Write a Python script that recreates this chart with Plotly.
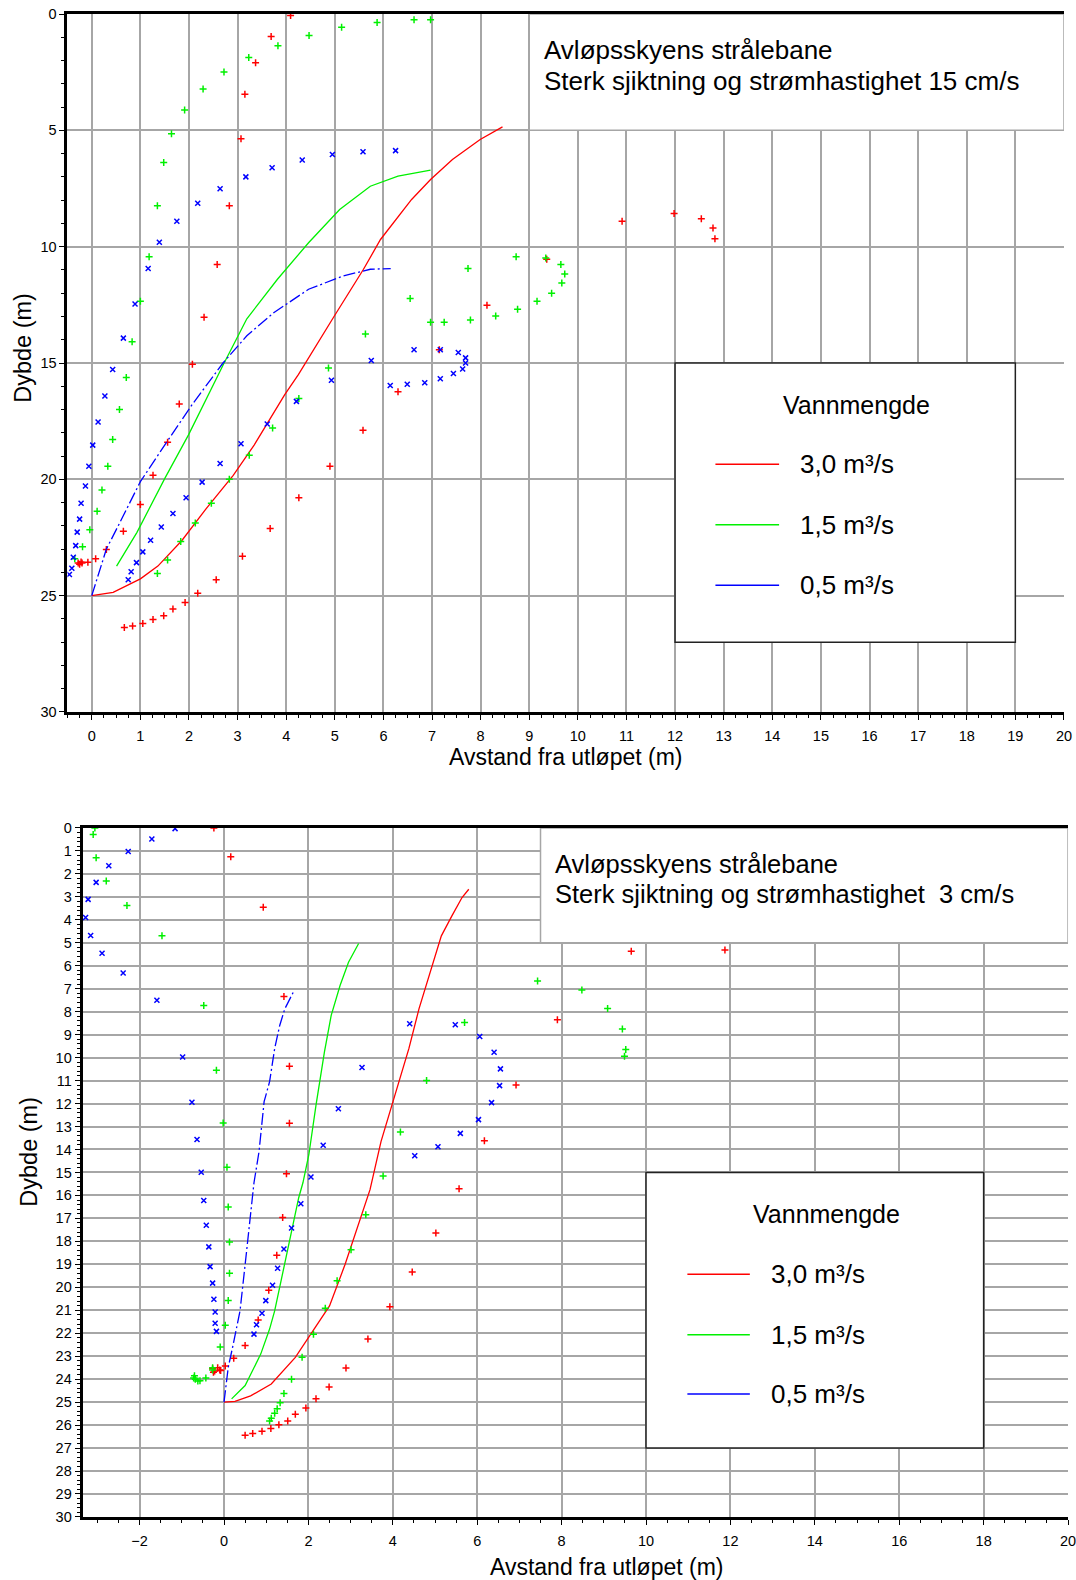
import plotly.graph_objects as go

# ---------------- Top chart: current 15 cm/s ----------------
top_red_line_x = [0, 0.44, 1.0, 1.36, 1.85, 2.35, 2.91, 3.34, 3.97, 4.25, 4.99, 5.59, 5.94, 6.58, 6.97, 7.42, 7.99, 8.45]
top_red_line_y = [25, 24.86, 24.28, 23.73, 22.64, 21.27, 19.83, 18.53, 16.36, 15.5, 12.98, 10.97, 9.69, 7.97, 7.11, 6.25, 5.39, 4.85]
top_green_line_x = [0.51, 0.93, 1.5, 1.99, 2.71, 3.19, 3.82, 4.46, 5.1, 5.73, 6.3, 6.97]
top_green_line_y = [23.73, 22.28, 19.97, 18.09, 15.05, 13.1, 11.4, 9.83, 8.4, 7.4, 6.97, 6.71]
top_blue_line_x = [0, 0.3, 0.58, 1.0, 1.5, 2.06, 2.7, 3.19, 3.75, 4.46, 5.17, 5.73, 6.15]
top_blue_line_y = [25, 23.0, 21.85, 20.1, 18.53, 16.8, 15.0, 13.83, 12.83, 11.83, 11.26, 10.97, 10.94]

top_red_pts_x = [4.09, 3.69, 3.37, 3.15, 3.07, 2.83, 2.58, 2.31, 2.07, 1.8, 1.56, 1.26, 1.0, 0.65, 0.30, 0.08, -0.08,
                 -0.28, -0.22, -0.25, -0.2,
                 0.67, 0.84, 1.05, 1.26, 1.48, 1.67, 1.92, 2.18, 2.56, 3.1, 3.67, 4.26, 4.9, 5.58, 6.3,
                 7.15, 8.13, 9.36, 10.91, 11.98, 12.54, 12.78, 12.82]
top_red_pts_y = [0.06, 0.97, 2.09, 3.45, 5.36, 8.24, 10.77, 13.03, 15.05, 16.76, 18.41, 19.83, 21.08, 22.23, 23.02, 23.41, 23.57,
                 23.6, 23.55, 23.65, 23.6,
                 26.37, 26.31, 26.2, 26.03, 25.87, 25.58, 25.29, 24.9, 24.32, 23.31, 22.11, 20.79, 19.44, 17.89, 16.24,
                 14.43, 12.52, 10.54, 8.91, 8.57, 8.8, 9.2, 9.66]

top_green_pts_x = [6.97, 6.63, 5.87, 5.14, 4.47, 3.83, 3.23, 2.72, 2.29, 1.91, 1.64, 1.48, 1.35, 1.18, 1.0, 0.83,
                   0.71, 0.57, 0.43, 0.33, 0.21, 0.11, -0.04, -0.19, -0.35,
                   1.35, 1.56, 1.83, 2.13, 2.46, 2.83, 3.24, 3.72, 4.26, 4.87, 5.63, 6.55,
                   6.97, 7.25, 7.79, 8.31, 8.76, 9.16, 9.46, 9.67, 9.73, 9.65, 9.34, 8.73, 7.74]
top_green_pts_y = [0.24, 0.24, 0.36, 0.57, 0.92, 1.36, 1.87, 2.49, 3.22, 4.12, 5.14, 6.38, 8.24, 10.43, 12.35, 14.09,
                   15.62, 17.0, 18.29, 19.44, 20.46, 21.37, 22.17, 22.9, 23.41,
                   24.05, 23.47, 22.67, 21.88, 21.03, 20.0, 18.97, 17.79, 16.53, 15.22, 13.75, 12.23,
                   13.25, 13.25, 13.15, 12.98, 12.69, 12.35, 12.0, 11.56, 11.17, 10.77, 10.49, 10.43, 10.94]

top_blue_pts_x = [6.25, 5.58, 4.95, 4.33, 3.71, 3.17, 2.64, 2.18, 1.75, 1.39, 1.16, 0.89, 0.65, 0.43,
                  0.27, 0.13, 0.02, -0.06, -0.13, -0.22, -0.25, -0.3, -0.33, -0.38, -0.41, -0.46,
                  0.75, 0.81, 0.92, 1.05, 1.21, 1.43, 1.67, 1.94, 2.27, 2.64, 3.07, 3.61, 4.21, 4.93,
                  6.14, 6.49, 6.85, 7.17, 7.44, 7.63, 5.75, 6.63, 7.17, 7.54, 7.69, 7.69]
top_blue_pts_y = [5.87, 5.92, 6.04, 6.27, 6.61, 7.0, 7.51, 8.13, 8.91, 9.81, 10.94, 12.46, 13.93, 15.28,
                  16.42, 17.54, 18.53, 19.44, 20.29, 21.03, 21.71, 22.27, 22.85, 23.35, 23.82, 24.09,
                  24.32, 23.97, 23.58, 23.12, 22.62, 22.05, 21.47, 20.79, 20.12, 19.32, 18.47, 17.62, 16.65, 15.74,
                  15.97, 15.91, 15.85, 15.68, 15.45, 15.26, 14.89, 14.43, 14.43, 14.55, 14.78, 15.0]

# ---------------- Bottom chart: current 3 cm/s ----------------
bot_red_line_x = [0, 0.26, 0.63, 1.12, 1.69, 2.09, 2.5, 2.87, 3.23, 3.46, 3.72, 4.05, 4.38, 4.62, 4.87, 5.15, 5.4, 5.64, 5.8]
bot_red_line_y = [25, 24.97, 24.73, 24.21, 23.05, 21.97, 20.81, 19.0, 16.97, 15.75, 13.66, 11.63, 9.61, 7.88, 6.43, 4.7, 3.83, 3.03, 2.67]
bot_green_line_x = [0.18, 0.5, 0.87, 1.08, 1.2, 1.44, 1.6, 1.77, 1.87, 2.01, 2.18, 2.38, 2.54, 2.75, 2.95, 3.19]
bot_green_line_y = [24.86, 24.28, 22.91, 21.82, 21.03, 19.0, 17.69, 16.1, 15.45, 14.23, 12.07, 9.75, 8.16, 6.86, 5.85, 5.03]
bot_blue_line_x = [0, 0.1, 0.22, 0.38, 0.51, 0.63, 0.71, 0.83, 0.95, 1.08, 1.2, 1.32, 1.44, 1.65]
bot_blue_line_y = [25, 23.49, 22.47, 21.02, 18.85, 16.68, 15.45, 14.09, 11.92, 11.05, 9.61, 8.6, 7.88, 7.12]

bot_red_pts_x = [-0.24, 0.16, 0.93, 1.42, 1.55, 1.55, 1.48, 1.39, 1.25, 1.06, 0.81, 0.5, 0.23, 0.03,
                 -0.27, -0.22, -0.15, -0.1, -0.25, -0.08,
                 0.5, 0.68, 0.9, 1.11, 1.3, 1.51, 1.69, 1.94, 2.18, 2.49, 2.89, 3.41, 3.93, 4.46, 5.02, 5.57,
                 6.17, 6.92, 7.9, 9.65, 11.87]
bot_red_pts_y = [0.0, 1.26, 3.45, 7.34, 10.38, 12.86, 15.06, 16.96, 18.61, 20.13, 21.42, 22.54, 23.09, 23.43,
                 23.55, 23.65, 23.5, 23.6, 23.7, 23.62,
                 26.44, 26.37, 26.27, 26.15, 25.98, 25.82, 25.53, 25.26, 24.85, 24.34, 23.51, 22.25, 20.85, 19.33, 17.64, 15.71,
                 13.62, 11.19, 8.35, 5.37, 5.31]

bot_green_pts_x = [-3.06, -3.1, -3.03, -2.79, -2.3, -1.47, -0.48, -0.18, -0.02, 0.07,
                   0.1, 0.13, 0.13, 0.1, 0.03, -0.09, -0.27, -0.27,
                   -0.7, -0.68, -0.62, -0.57, -0.43, -0.72,
                   1.08, 1.12, 1.2, 1.26, 1.33, 1.42, 1.6, 1.85, 2.12, 2.4, 2.68, 3.01, 3.36, 3.77,
                   4.18, 4.8, 5.7, 7.43, 8.48, 9.09, 9.44, 9.52, 9.49]
bot_green_pts_y = [0.0, 0.29, 1.3, 2.31, 3.38, 4.7, 7.73, 10.55, 12.85, 14.77,
                   16.51, 18.03, 19.39, 20.58, 21.65, 22.6, 23.5, 23.6,
                   23.85, 24.0, 24.08, 24.07, 23.95, 23.95,
                   25.82, 25.7, 25.48, 25.29, 25.03, 24.63, 24.0, 23.05, 22.04, 20.91, 19.72, 18.37, 16.84, 15.16,
                   13.24, 11.0, 8.47, 6.67, 7.06, 7.86, 8.76, 9.65, 9.94]

bot_blue_pts_x = [-1.16, -1.71, -2.27, -2.73, -3.03, -3.22, -3.28, -3.16, -2.89, -2.39, -1.59, -0.98, -0.76, -0.64, -0.54,
                  -0.48, -0.42, -0.36, -0.33, -0.27, -0.24, -0.21, -0.21, -0.18,
                  0.71, 0.77, 0.9, 0.99, 1.15, 1.27, 1.42, 1.6, 1.82, 2.06, 2.35, 2.71, 3.27,
                  4.4, 5.48, 6.06, 6.4, 6.55, 6.53, 6.34, 6.03, 5.6, 5.07, 4.52]
bot_blue_pts_y = [0.03, 0.48, 1.03, 1.65, 2.37, 3.11, 3.9, 4.68, 5.46, 6.32, 7.5, 9.97, 11.94, 13.57, 14.99,
                  16.22, 17.3, 18.24, 19.1, 19.82, 20.52, 21.08, 21.57, 21.92,
                  22.04, 21.63, 21.13, 20.58, 19.91, 19.17, 18.33, 17.42, 16.36, 15.2, 13.82, 12.23, 10.43,
                  8.53, 8.57, 9.08, 9.77, 10.49, 11.22, 11.96, 12.7, 13.3, 13.88, 14.27]

legend_labels = ["3,0 m³/s", "1,5 m³/s", "0,5 m³/s"]
legend_title = "Vannmengde"
title_line1 = "Avløpsskyens strålebane"
title_line2_top = "Sterk sjiktning og strømhastighet 15 cm/s"
title_line2_bot = "Sterk sjiktning og strømhastighet \u00a03 cm/s"
x_title = "Avstand fra utløpet (m)"
y_title = "Dybde (m)"

RED, GREEN, BLUE = "#ff0000", "#00f000", "#0000ff"
FONT = "Liberation Sans, Arial, sans-serif"

fig = go.Figure()


def add_set(xa, ya, lx, ly, color, dash, px, py, symbol):
    fig.add_trace(go.Scatter(x=lx, y=ly, mode="lines", xaxis=xa, yaxis=ya, showlegend=False,
                             line=dict(color=color, width=1.3, dash=dash)))
    fig.add_trace(go.Scatter(x=px, y=py, mode="markers", xaxis=xa, yaxis=ya, showlegend=False,
                             marker=dict(symbol=symbol, size=5, color=color,
                                         line=dict(color=color, width=1.5))))


add_set("x", "y", top_red_line_x, top_red_line_y, RED, "solid", top_red_pts_x, top_red_pts_y, "cross-thin")
add_set("x", "y", top_green_line_x, top_green_line_y, GREEN, "solid", top_green_pts_x, top_green_pts_y, "cross-thin")
add_set("x", "y", top_blue_line_x, top_blue_line_y, BLUE, "12px,3px,2px,3px", top_blue_pts_x, top_blue_pts_y, "x-thin")
add_set("x2", "y2", bot_red_line_x, bot_red_line_y, RED, "solid", bot_red_pts_x, bot_red_pts_y, "cross-thin")
add_set("x2", "y2", bot_green_line_x, bot_green_line_y, GREEN, "solid", bot_green_pts_x, bot_green_pts_y, "cross-thin")
add_set("x2", "y2", bot_blue_line_x, bot_blue_line_y, BLUE, "12px,3px,2px,3px", bot_blue_pts_x, bot_blue_pts_y, "x-thin")

GRID = "#a6a6a6"
common_x = dict(showgrid=True, gridcolor=GRID, gridwidth=1.5, showline=True, linecolor="black", linewidth=3,
                mirror=True, ticks="outside", ticklen=5, tickcolor="black", zeroline=False, automargin=False,
                tickfont=dict(size=14.5, family=FONT, color="black"), ticklabelstandoff=4,
                ticklabeloverflow="allow")
common_y = dict(showgrid=True, gridcolor=GRID, gridwidth=1.5, showline=True, linecolor="black", linewidth=3,
                mirror=False, ticks="outside", ticklen=5, tickcolor="black", zeroline=False, automargin=False,
                tickfont=dict(size=14.5, family=FONT, color="black"), autorange=False)

fig.update_layout(
    width=1076, height=1580, template="none",
    margin=dict(l=0, r=0, t=0, b=0),
    paper_bgcolor="white", plot_bgcolor="white",
    font=dict(family=FONT, color="black"),
    xaxis=dict(domain=[0.0627, 0.9888], range=[-0.5, 20], dtick=1, tick0=0, anchor="y",
               minor=dict(dtick=0.25, ticklen=3, ticks="outside", tickcolor="black", showgrid=False), **common_x),
    yaxis=dict(domain=[0.5494, 0.9911], range=[30, 0], dtick=5, tick0=0, anchor="x",
               minor=dict(dtick=1, ticklen=3, ticks="outside", tickcolor="black", showgrid=False), **common_y),
    xaxis2=dict(domain=[0.0768, 0.9926], range=[-3.35, 20], dtick=2, tick0=0, anchor="y2",
                minor=dict(dtick=0.5, ticklen=3, ticks="outside", tickcolor="black", showgrid=False), **common_x),
    yaxis2=dict(domain=[0.0399, 0.4760], range=[30, 0], dtick=1, tick0=0, anchor="x2",
                minor=dict(dtick=0.2, ticklen=3, ticks="outside", tickcolor="black", showgrid=False), **common_y),
)

shapes = []
annotations = []


def panel_decor(xr, yr, box, leg, text_x, line2, tsize):
    # title box (white, hides grid)
    shapes.append(dict(type="rect", xref=xr, yref=yr, x0=box[0], x1=box[1], y0=box[2], y1=box[3],
                       fillcolor="white", line=dict(color=GRID, width=1.5), layer="between"))
    annotations.append(dict(xref=xr, yref=yr, x=text_x, y=1.56, text=title_line1, showarrow=False,
                            xanchor="left", yanchor="middle", font=dict(size=tsize, family=FONT, color="black")))
    annotations.append(dict(xref=xr, yref=yr, x=text_x, y=2.86, text=line2, showarrow=False,
                            xanchor="left", yanchor="middle", font=dict(size=tsize, family=FONT, color="black")))
    # legend box
    lx0, lx1, ly0, ly1, tx, s0, s1, lab, rows = leg
    shapes.append(dict(type="rect", xref=xr, yref=yr, x0=lx0, x1=lx1, y0=ly0, y1=ly1,
                       fillcolor="white", line=dict(color="#222222", width=1.5), layer="between"))
    annotations.append(dict(xref=xr, yref=yr, x=tx, y=16.8, text=legend_title, showarrow=False,
                            xanchor="center", yanchor="middle", font=dict(size=25, family=FONT, color="black")))
    for color, label, ry in zip([RED, GREEN, BLUE], legend_labels, rows):
        shapes.append(dict(type="line", xref=xr, yref=yr, x0=s0, x1=s1, y0=ry, y1=ry,
                           line=dict(color=color, width=1.5), layer="above"))
        annotations.append(dict(xref=xr, yref=yr, x=lab, y=ry, text=label, showarrow=False,
                                xanchor="left", yanchor="middle", font=dict(size=26, family=FONT, color="black")))


panel_decor("x", "y", (9, 20, 0, 5), (12, 19, 15, 27, 15.73, 12.83, 14.14, 14.53, [19.35, 21.95, 24.55]),
            9.27, title_line2_top, 26)
panel_decor("x2", "y2", (7.5, 20, 0, 5), (10, 18, 15, 27, 14.27, 10.98, 12.46, 12.91, [19.43, 22.07, 24.65]),
            7.8, title_line2_bot, 25.5)

# axis titles
for x, y in [(0.526, 0.5209), (0.5637, 0.0085)]:
    annotations.append(dict(xref="paper", yref="paper", x=x, y=y, text=x_title, showarrow=False,
                            xanchor="center", yanchor="middle", font=dict(size=23, family=FONT, color="black")))
for x, y in [(0.0206, 0.78), (0.0262, 0.2712)]:
    annotations.append(dict(xref="paper", yref="paper", x=x, y=y, text=y_title, showarrow=False, textangle=-90,
                            xanchor="center", yanchor="middle", font=dict(size=23.5, family=FONT, color="black")))

fig.update_layout(shapes=shapes, annotations=annotations)
fig.write_html("out.html", config={"displayModeBar": False},
               post_script="document.body.style.margin='0';document.body.style.overflow='hidden';")
